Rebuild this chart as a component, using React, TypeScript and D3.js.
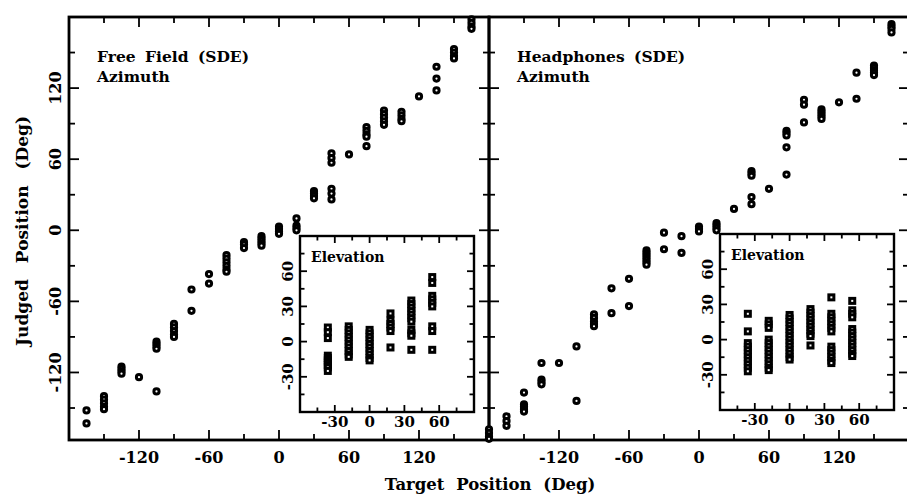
import React from "react";
import * as d3 from "d3";

// ---------- DATA ----------
const azTargets = [-180, -165, -150, -135, -120, -105, -90, -75, -60, -45, -30, -15, 0, 15, 30, 45, 60, 75, 90, 105, 120, 135, 150, 165];

const freeFieldAzimuth: number[][] = [
  [],
  [-152, -163],
  [-140, -143, -146, -149, -151],
  [-115, -117, -119, -121],
  [-124],
  [-94, -96, -98, -100, -136],
  [-79, -82, -85, -88, -90],
  [-50, -68],
  [-37, -45],
  [-21, -24, -27, -30, -33, -35],
  [-10, -12, -15],
  [-5, -7, -9, -11, -13],
  [3, 1, -1, -3],
  [10, 4, 2, 0],
  [33, 31, 29, 27],
  [65, 61, 57, 35, 31, 26],
  [64],
  [87, 84, 81, 79, 71],
  [101, 98, 95, 92, 89],
  [100, 97, 94, 92],
  [113],
  [138, 128, 118],
  [153, 150, 147, 145],
  [178, 175, 172, 170],
];

const headphonesAzimuth: number[][] = [
  [-168, -171, -174, -176],
  [-157, -161, -165],
  [-137, -147, -149, -151, -153],
  [-112, -126, -128, -130],
  [-112],
  [-98, -144],
  [-71, -74, -77, -79, -81],
  [-49, -70],
  [-41, -64],
  [-17, -19, -21, -23, -25, -27, -29],
  [-2, -16],
  [-5, -19],
  [3, 1, -1],
  [6, 4, 2, 0],
  [18],
  [50, 48, 46, 28, 22],
  [35],
  [84, 82, 80, 70, 47],
  [110, 106, 91],
  [102, 100, 98, 96, 94],
  [108],
  [133, 111],
  [139, 137, 135, 133, 131],
  [174, 172, 170, 167],
];

const elTargets = [-36, -18, 0, 18, 36, 54];

const freeFieldElevation: number[][] = [
  [12, 8, 3, -12, -14, -16, -18, -20, -22, -25],
  [13, 10, 7, 4, 1, -2, -5, -8, -11, -13],
  [10, 7, 4, 1, -2, -5, -8, -11, -14, -16],
  [24, 18, 15, 12, 9, -5],
  [35, 32, 29, 26, 23, 20, 17, 10, 7, 5, -7],
  [55, 50, 39, 36, 33, 30, 13, 9, -7],
];

const headphonesElevation: number[][] = [
  [22, 7, -3, -6, -9, -12, -15, -18, -21, -24, -27],
  [16, 13, 10, 0, -3, -6, -9, -12, -15, -18, -21, -24, -26],
  [21, 18, 15, 12, 9, 6, 3, 0, -3, -6, -9, -12, -15, -17],
  [26, 23, 20, 17, 14, 11, 8, 5, 3, -5],
  [36, 22, 19, 16, 13, 10, 7, -6, -9, -12, -15, -18, -20],
  [33, 25, 22, 19, 9, 6, 3, 0, -3, -6, -9, -12, -14],
];

const mainTicks = [-150, -120, -90, -60, -30, 0, 30, 60, 90, 120, 150];
const mainTickLabels = [-120, -60, 0, 60, 120];
const insetTicks = [-45, -30, -15, 0, 15, 30, 45, 60, 75];
const insetTickLabels = [-30, 0, 30, 60];

const panelTitles = ["Free Field (SDE)", "Headphones (SDE)"];
const panelSubtitle = "Azimuth";
const insetTitle = "Elevation";
const xTitle = "Target Position (Deg)";
const yTitle = "Judged Position (Deg)";

const FONT = "'DejaVu Serif', serif";

type Lin = d3.ScaleLinear<number, number>;

function Frame({ x, y, ticks, major, majLen, minLen, sw }: { x: Lin; y: Lin; ticks: number[]; major: (v: number) => boolean; majLen: number; minLen: number; sw: number }) {
  const [x0, x1] = x.range();
  const [y0, y1] = y.range();
  const els: React.ReactNode[] = [];
  ticks.forEach((v, i) => {
    const L = major(v) ? majLen : minLen;
    const px = x(v);
    const py = y(v);
    els.push(<line key={"b" + i} x1={px} x2={px} y1={y0} y2={y0 - L} />);
    els.push(<line key={"t" + i} x1={px} x2={px} y1={y1} y2={y1 + L} />);
    els.push(<line key={"l" + i} x1={x0} x2={x0 + L} y1={py} y2={py} />);
    els.push(<line key={"r" + i} x1={x1} x2={x1 - L} y1={py} y2={py} />);
  });
  return (
    <g stroke="#000" strokeWidth={1.8}>
      <rect x={x0} y={y1} width={x1 - x0} height={y0 - y1} fill="none" strokeWidth={sw} />
      {els}
    </g>
  );
}

function Inset({ x, y, data, labelY, labelXBase }: { x: Lin; y: Lin; data: number[][]; labelY: number; labelXBase: number }) {
  const [x0, x1] = x.range();
  const [y0, y1] = y.range();
  const s = 5;
  return (
    <g>
      <rect x={x0} y={y1} width={x1 - x0} height={y0 - y1} fill="#fff" />
      {elTargets.map((t, i) =>
        data[i].map((v, j) => (
          <rect key={i + "-" + j} x={x(t) - s / 2} y={y(v) - s / 2} width={s} height={s} fill="#fff" stroke="#000" strokeWidth={3} />
        ))
      )}
      <Frame x={x} y={y} ticks={insetTicks} major={(v) => v % 30 === 0} majLen={7} minLen={4.5} sw={2.4} />
      <text x={x0 + 11} y={y1 + 26} fontFamily={FONT} fontWeight="bold" fontSize={14}>{insetTitle}</text>
      {insetTickLabels.map((v) => (
        <text key={"x" + v} x={x(v)} y={labelXBase} textAnchor="middle" fontFamily={FONT} fontWeight="bold" fontSize={15}>{v}</text>
      ))}
      {insetTickLabels.map((v) => (
        <text key={"y" + v} transform={`translate(${labelY},${y(v)}) rotate(-90)`} dy="0.36em" textAnchor="middle" fontFamily={FONT} fontWeight="bold" fontSize={15}>{v}</text>
      ))}
    </g>
  );
}

function Panel({ x, y, data, title, titleX }: { x: Lin; y: Lin; data: number[][]; title: string; titleX: number }) {
  return (
    <g>
      <Frame x={x} y={y} ticks={mainTicks} major={(v) => v % 60 === 0} majLen={10} minLen={6} sw={2.8} />
      {azTargets.map((t, i) =>
        data[i].map((v, j) => (
          <circle key={i + "-" + j} cx={x(t)} cy={y(v)} r={2.6} fill="#fff" stroke="#000" strokeWidth={3} />
        ))
      )}
      <text x={titleX} y={62} fontFamily={FONT} fontWeight="bold" fontSize={15.5} style={{ wordSpacing: "4px" }}>{title}</text>
      <text x={titleX} y={82} fontFamily={FONT} fontWeight="bold" fontSize={15.5}>{panelSubtitle}</text>
      {mainTickLabels.map((v) => (
        <text key={v} x={x(v)} y={463} textAnchor="middle" fontFamily={FONT} fontWeight="bold" fontSize={16}>{v}</text>
      ))}
    </g>
  );
}

export default function App() {
  const y = d3.scaleLinear().domain([-177, 180]).range([440, 17]);
  const xL = d3.scaleLinear().domain([-180, 180]).range([69, 489]);
  const xR = d3.scaleLinear().domain([-180, 180]).range([489, 909]);

  const insLx = d3.scaleLinear().domain([-60, 90]).range([300, 474]);
  const insLy = d3.scaleLinear().domain([-60, 90]).range([412, 236]);
  const insRx = d3.scaleLinear().domain([-60, 90]).range([720, 894]);
  const insRy = d3.scaleLinear().domain([-60, 90]).range([410, 234]);

  return (
    <svg width={907} height={497} style={{ position: "absolute", left: 0, top: 0, background: "#fff" }}>
      <rect width={907} height={497} fill="#fff" />
      <Panel x={xL} y={y} data={freeFieldAzimuth} title={panelTitles[0]} titleX={97} />
      <Panel x={xR} y={y} data={headphonesAzimuth} title={panelTitles[1]} titleX={517} />
      {mainTickLabels.map((v) => (
        <text key={v} transform={`translate(55,${y(v)}) rotate(-90)`} dy="0.36em" textAnchor="middle" fontFamily={FONT} fontWeight="bold" fontSize={16}>{v}</text>
      ))}
      <Inset x={insLx} y={insLy} data={freeFieldElevation} labelY={288} labelXBase={427} />
      <Inset x={insRx} y={insRy} data={headphonesElevation} labelY={708} labelXBase={425} />
      <text x={490} y={490} textAnchor="middle" fontFamily={FONT} fontWeight="bold" fontSize={16.5} style={{ wordSpacing: "6px" }}>{xTitle}</text>
      <text transform={`translate(22,231) rotate(-90)`} dy="0.36em" textAnchor="middle" fontFamily={FONT} fontWeight="bold" fontSize={17} style={{ wordSpacing: "10px" }}>{yTitle}</text>
    </svg>
  );
}
